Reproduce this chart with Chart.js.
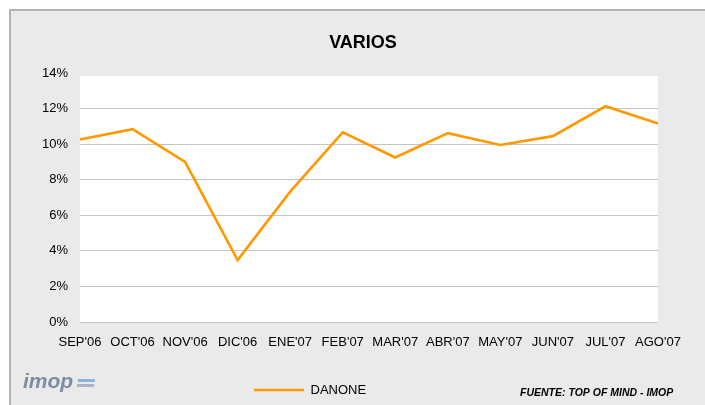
<!DOCTYPE html>
<html>
<head>
<meta charset="utf-8">
<script src="https://cdn.jsdelivr.net/npm/chart.js@4"></script>
<style>
    body { margin: 0; background: #fff; }
    canvas { display: block; }
</style>
</head>
<body>
<canvas id="lineChart" width="705" height="405"></canvas>
<script>
// Datos del gráfico
const months = ["SEP'06", "OCT'06", "NOV'06", "DIC'06", "ENE'07", "FEB'07",
                "MAR'07", "ABR'07", "MAY'07", "JUN'07", "JUL'07", "AGO'07"];
const danone = [10.26, 10.84, 9.0, 3.48, 7.33, 10.66, 9.25, 10.62, 9.95, 10.45, 12.13, 11.16];
const yTicks = [0, 2, 4, 6, 8, 10, 12, 14];

const FONT = "Arial, 'Liberation Sans', sans-serif";

// Fondo gris con marco, área del gráfico en blanco
const framePlugin = {
    id: 'frame',
    beforeDraw(chart) {
        const ctx = chart.ctx;
        const a = chart.chartArea;
        ctx.save();
        ctx.fillStyle = '#ffffff';
        ctx.fillRect(0, 0, chart.width, chart.height);
        ctx.fillStyle = '#eaeaea';
        ctx.fillRect(10, 10, chart.width, chart.height);
        ctx.strokeStyle = '#b3b3b3';
        ctx.lineWidth = 2;
        ctx.strokeRect(10, 10, chart.width + 10, chart.height + 10);
        ctx.fillStyle = '#ffffff';
        ctx.fillRect(a.left, a.top + 3, a.right - a.left, a.bottom - a.top - 3);
        ctx.restore();
    },
    afterLayout(chart) {
        // mover título y leyenda a donde están en la imagen
        chart.titleBlock.left = 21;
        chart.titleBlock.right = 705;
        chart.legend.left = 244;
        chart.legend.right = 705;
        chart.legend.top = 373.5;
    },
    afterDraw(chart) {
        const ctx = chart.ctx;
        ctx.save();
        // fuente
        ctx.fillStyle = '#000';
        ctx.font = "italic bold 10.5px " + FONT;
        ctx.textAlign = 'left';
        ctx.textBaseline = 'middle';
        ctx.fillText('FUENTE: TOP OF MIND - IMOP', 520, 393);
        // logo imop
        ctx.font = "italic bold 21px " + FONT;
        ctx.textBaseline = 'alphabetic';
        ctx.fillStyle = '#7f8ca3';
        ctx.fillText('imop', 23, 388);
        ctx.fillStyle = '#8fb1db';
        ctx.fillRect(78, 379, 17, 3);
        ctx.fillStyle = '#aab4c4';
        ctx.fillRect(77, 384, 17, 3);
        ctx.restore();
    }
};

const ctx = document.getElementById('lineChart').getContext('2d');
new Chart(ctx, {
    type: 'line',
    data: {
        labels: months,
        datasets: [{
            label: 'DANONE',
            data: danone,
            borderColor: '#ff9900',
            backgroundColor: '#ff9900',
            borderWidth: 2.6,
            pointRadius: 0,
            tension: 0
        }]
    },
    options: {
        responsive: false,
        animation: false,
        layout: { padding: { left: 0, right: 47, top: 0, bottom: 0 } },
        plugins: {
            title: {
                display: true,
                text: 'VARIOS',
                color: '#000',
                font: { family: FONT, size: 18, weight: 'bold' },
                padding: { top: 32, bottom: 19.4 }
            },
            legend: {
                position: 'bottom',
                align: 'start',
                labels: {
                    usePointStyle: true,
                    pointStyle: 'line',
                    pointStyleWidth: 50,
                    color: '#000',
                    font: { family: FONT, size: 13 },
                    padding: 10
                }
            },
            tooltip: { enabled: false }
        },
        scales: {
            x: {
                grid: { display: false },
                border: { display: false },
                ticks: { color: '#000', font: { family: FONT, size: 13 }, padding: 5, maxRotation: 0, autoSkip: false },
                afterFit(s) {
                    s.height = 405 - 322 - s.chart.legend.height;
                }
            },
            y: {
                min: 0,
                max: 14,
                afterBuildTicks(s) {
                    s.ticks = yTicks.map(v => ({ value: v }));
                },
                grid: {
                    drawTicks: false,
                    color: c => (c.tick && c.tick.value === 14) ? 'rgba(0,0,0,0)' : '#c4c4c4',
                    lineWidth: 1
                },
                border: { display: false },
                ticks: {
                    color: '#000',
                    font: { family: FONT, size: 13 },
                    padding: 12,
                    callback: v => v + '%'
                },
                afterFit(s) {
                    s.width = 80;
                }
            }
        }
    },
    plugins: [framePlugin]
});
</script>
</body>
</html>
